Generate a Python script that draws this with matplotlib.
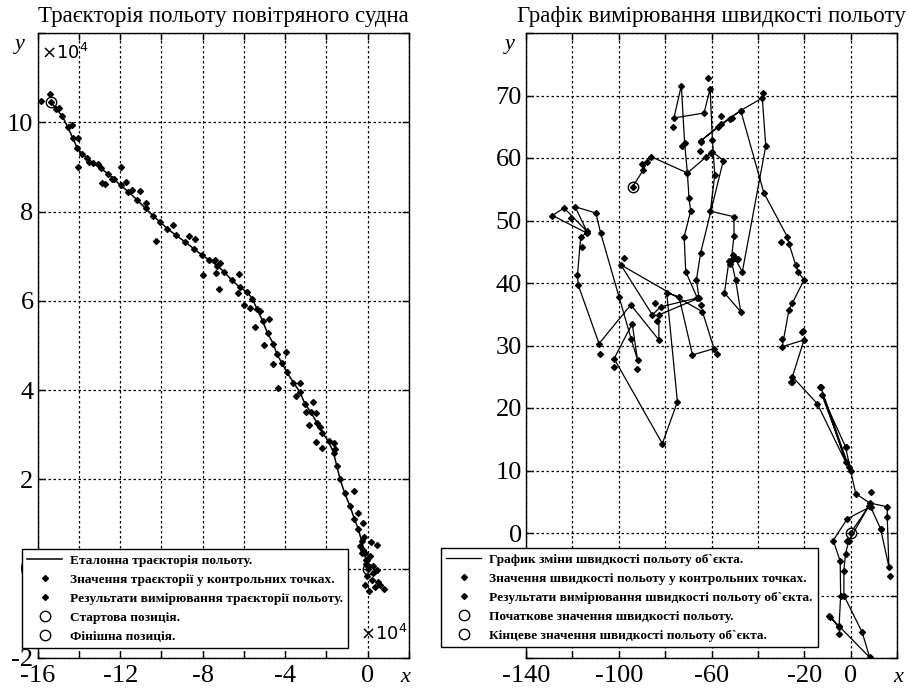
import numpy as np
import matplotlib
matplotlib.use("Agg")
from matplotlib import pyplot as plt

plt.rcParams['font.family'] = ['Liberation Serif', 'DejaVu Serif']
plt.rcParams['mathtext.fontset'] = 'dejavusans'

# ---- траєкторія (x10^4) ----
ref_x = [-15.35, -15.1, -14.8, -14.55, -14.3, -14.08, -13.85, -13.6, -13.3, -12.95, -12.6, -12.3,
         -11.98, -11.6, -11.2, -10.77, -10.4, -10.05, -9.72, -9.3, -8.85, -8.44, -8.05, -7.7,
         -7.3, -6.95, -6.6, -6.2, -5.85, -5.6, -5.37, -5.1, -4.85, -4.57, -4.4, -4.15, -3.92,
         -3.6, -3.28, -3.05, -2.75, -2.47, -2.2, -1.9, -1.66, -1.5, -1.34, -1.12, -0.86, -0.65,
         -0.45, -0.3, -0.21, -0.1, 0.0]
ref_y = [10.45, 10.3, 10.13, 9.9, 9.65, 9.42, 9.3, 9.2, 9.08, 8.97, 8.85, 8.72,
         8.59, 8.44, 8.27, 8.07, 7.9, 7.76, 7.62, 7.47, 7.32, 7.17, 7.03, 6.92,
         6.79, 6.64, 6.47, 6.3, 6.2, 6.05, 5.82, 5.55, 5.27, 5.03, 4.8, 4.6, 4.4,
         4.17, 3.95, 3.7, 3.5, 3.27, 3.05, 2.85, 2.6, 2.3, 2.0, 1.7, 1.4, 1.12,
         0.88, 0.62, 0.43, 0.2, 0.0]

meas_x = [-15.82, -15.42, -14.97, -14.32, -14.03, -14.05, -13.52, -13.06, -12.87, -12.74, -12.39,
          -11.94, -11.74, -11.42, -11.05, -10.73, -10.26, -9.45, -8.65, -8.36, -8.0, -7.39, -7.35,
          -7.19, -7.18, -6.23, -6.29, -5.98, -5.69, -5.45, -5.21, -4.81, -5.05, -4.6, -3.97, -4.37,
          -3.28, -3.48, -2.66, -3.0, -2.52, -2.87, -2.31, -2.5, -2.2, -1.62, -1.58, -0.65, -0.45,
          -0.21, -0.37, 0.43, -0.13, 0.11, 0.27, 0.43, -0.13, 0.6, 0.19, -0.05, -0.29, -0.06,
          0.03, 0.27, 0.15, -0.2, 0.35, 0.5, 0.8, 0.05, -0.1]
meas_y = [10.47, 10.64, 10.33, 9.93, 9.64, 9.0, 9.12, 9.06, 8.64, 8.62, 8.74,
          9.0, 8.67, 8.49, 8.46, 8.2, 7.34, 7.69, 7.45, 7.38, 6.58, 6.91, 6.63,
          6.27, 6.85, 6.6, 6.18, 5.91, 5.84, 5.41, 5.78, 5.6, 5.01, 4.58, 4.86, 4.04,
          4.17, 3.86, 3.74, 3.5, 3.48, 3.21, 3.18, 2.84, 2.71, 2.82, 2.69, 1.73, 1.25,
          1.03, 0.5, 0.54, 0.35, 0.28, -0.1, -0.02, -0.36, -0.36, -0.25, -0.17, 0.35, 0.2,
          0.05, 0.05, 0.6, 0.7, -0.4, -0.3, -0.45, -0.5, 0.1]

# ---- швидкість ----
vel_x = [-94.0, -89.4, -87.8, -86.0, -70.4, -62.2, -59.6, -54.9, -64.7, -66.5, -65.4, -82.7,
         -82.7, -94.8, -108.5, -117.5, -117.8, -116.4, -113.8, -128.6, -123.6, -113.8, -118.8,
         -109.9, -107.8, -99.9, -94.6, -91.9, -94.2, -102.0, -81.2, -74.7, -79.3, -74.0, -68.2,
         -58.9, -63.9, -99.1, -85.5, -81.9, -66.1, -71.1, -71.8, -69.0, -69.7, -70.4, -71.6,
         -73.0, -76.2, -63.2, -60.6, -59.6, -58.6, -60.5, -50.3, -50.3, -51.5, -49.6, -47.4,
         -54.4, -52.5, -50.0, -46.7, -36.6, -38.1, -47.4, -52.0, -57.0, -64.7, -56.0, -47.4,
         -37.4, -27.3, -26.6, -23.7, -22.7, -20.1, -25.1, -26.6, -29.5, -20.1, -25.1, -14.4,
         -2.2, -12.9, -0.8, -12.4, -2.2, 0.0, 2.2, 8.2, 15.8, 15.8, 16.5, 12.9, 8.6, -1.4,
         -7.5, -4.5, -4.3, -5.0, -8.9, -5.0, 8.2, 5.0, -2.9, -2.9, -2.2, -0.7, 8.0, 0.0]
vel_y = [55.4, 58.1, 59.3, 60.2, 57.6, 60.2, 61.0, 59.6, 44.8, 40.5, 37.6, 34.9,
         30.9, 36.5, 30.3, 39.7, 41.3, 47.4, 48.0, 50.8, 52.0, 48.3, 52.2,
         51.2, 48.0, 37.8, 31.0, 27.7, 33.5, 27.9, 14.3, 21.0, 38.4, 37.8, 28.5,
         29.5, 35.4, 42.9, 34.9, 36.2, 37.6, 41.8, 47.4, 51.5, 53.6, 57.6, 62.4,
         71.6, 66.4, 67.2, 71.1, 62.9, 57.3, 51.5, 50.6, 47.5, 43.6, 40.5, 35.4,
         38.4, 43.5, 44.0, 41.8, 61.9, 69.6, 67.6, 66.3, 65.0, 62.7, 65.4, 67.6,
         54.4, 47.4, 46.3, 42.9, 41.8, 40.5, 36.8, 35.7, 29.8, 30.9, 25.0, 20.7,
         11.4, 23.4, 10.6, 22.1, 13.8, 10.0, 6.3, 4.8, 4.2, 2.5, -5.4, 0.7, 4.2, 2.3,
         -1.2, -4.5, -10.0, -15.1, -13.4, -14.9, -19.9, -15.9, -10.0, -6.0, -3.3, -1.2, 4.4, 0.0]

vmeas_x = [-90.1, -61.3, -37.6, -97.7, -30.2, -115.7, -120.7, -64.7, -56.0, -51.0, -64.7, -20.4,
           -108.2, -102.0, -92.0, -57.5, -25.9, -13.1, -2.2, 8.6, 16.9, -5.0, -9.3, 12.9, -1.4,
           -65.0, -76.4, -72.8, -52.0, -50.8, -48.5, -60.3, -83.5, -84.5, -29.5, -20.8, -25.3]
vmeas_y = [59.1, 72.8, 70.4, 44.0, 46.5, 45.8, 50.4, 62.5, 66.7, 66.4, 36.5, 32.4,
           28.6, 26.6, 26.3, 28.6, 24.2, 23.4, 13.8, 6.6, -6.8, -16.1, -13.3, 0.7, -1.3,
           61.2, 65.0, 62.0, 43.0, 44.5, 43.8, 60.8, 34.0, 36.8, 31.0, 32.2, 24.2]

W, H = 907, 691
fig = plt.figure(figsize=(W / 100, H / 100), dpi=100)
ax1 = fig.add_axes([37.7 / W, 1 - 658 / H, (409 - 37.7) / W, (658 - 33) / H])
ax2 = fig.add_axes([526 / W, 1 - 658 / H, (897 - 526) / W, (658 - 33) / H])

dot = dict(linestyle='none', marker='D', markersize=3.0, color='black')
circ = dict(linestyle='none', marker='o', markersize=7.5, markerfacecolor='none',
            markeredgecolor='black', markeredgewidth=1.0)
leg_style = dict(prop={'weight': 'bold', 'size': 9.6}, frameon=True, fancybox=False,
                 edgecolor='black', framealpha=1, borderaxespad=0, handlelength=2.6,
                 labelspacing=0.5, handletextpad=0.6, borderpad=0.4)

# ліворуч
ax1.plot(ref_x, ref_y, color='black', linewidth=1.1, label='Еталонна траєкторія польоту.')
ax1.plot(ref_x, ref_y, label='Значення траєкторії у контрольних точках.', **dot)
ax1.plot(meas_x, meas_y, label='Результати вимірювання траєкторії польоту.', **dot)
ax1.plot(ref_x[0], ref_y[0], label='Стартова позиція.', **circ)
ax1.plot(ref_x[-1], ref_y[-1], label='Фінішна позиція.', **circ)
ax1.set_xlim(-16, 2)
ax1.set_ylim(-2, 12)
ax1.set_xticks(np.arange(-16, 3, 2))
ax1.set_xticklabels(['-16', '', '-12', '', '-8', '', '-4', '', '0', ''])
ax1.set_yticks(np.arange(-2, 13, 2))
ax1.set_yticklabels(['-2', '0', '2', '4', '6', '8', '10', ''])
ax1.set_title('Траєкторія польоту повітряного судна', fontsize=16.5, pad=8)
ax1.legend(loc='lower left', bbox_to_anchor=(22 / W, 1 - 648 / H),
           bbox_transform=fig.transFigure, **leg_style)

# праворуч
ax2.plot(vel_x, vel_y, color='black', linewidth=0.9, label='График зміни швидкості польоту об`єкта.')
ax2.plot(vel_x, vel_y, label='Значення швидкості польоту у контрольних точках.', **dot)
ax2.plot(vmeas_x, vmeas_y, label='Результати вимірювання швидкості польоту об`єкта.', **dot)
ax2.plot(vel_x[0], vel_y[0], label='Початкове значення швидкості польоту.', **circ)
ax2.plot(vel_x[-1], vel_y[-1], label='Кінцеве значення швидкості польоту об`єкта.', **circ)
ax2.set_xlim(-140, 20)
ax2.set_ylim(-20, 80)
ax2.set_xticks(np.arange(-140, 21, 20))
ax2.set_xticklabels(['-140', '', '-100', '', '-60', '', '-20', '0', ''])
ax2.set_yticks(np.arange(-20, 81, 10))
ax2.set_yticklabels(['', '-10', '0', '10', '20', '30', '40', '50', '60', '70', ''])
ax2.set_title('Графік вимірювання швидкості польоту', fontsize=16.5, pad=8)
ax2.legend(loc='lower left', bbox_to_anchor=(441 / W, 1 - 647 / H),
           bbox_transform=fig.transFigure, **leg_style)

for ax in (ax1, ax2):
    ax.grid(True, color='black', linestyle=(0, (2, 2)), linewidth=0.9)
    ax.tick_params(direction='in', top=True, right=True, length=5, width=1,
                   labelsize=19, pad=3)
    ax.tick_params(axis='x', pad=5)
    for s in ax.spines.values():
        s.set_linewidth(1.0)

# підпис "-16" закриває нижню частину "-2", як на оригіналі
ax1.get_xticklabels()[0].set_bbox(dict(facecolor='white', edgecolor='none', pad=4.5))

fig.text(20 / W, 1 - 45 / H, 'y', fontsize=16, style='italic', ha='center', va='center')
fig.text(510 / W, 1 - 45 / H, 'y', fontsize=16, style='italic', ha='center', va='center')
fig.text(405 / W, 1 - 677 / H, 'x', fontsize=16, style='italic', ha='center', va='center')
fig.text(898 / W, 1 - 677 / H, 'x', fontsize=16, style='italic', ha='center', va='center')
fig.text(65 / W, 1 - 53 / H, r'$\times10^4$', fontsize=13, ha='center', va='center')
fig.text(384 / W, 1 - 634 / H, r'$\times10^4$', fontsize=13, ha='center', va='center')

fig.savefig('out.png', dpi=100)
